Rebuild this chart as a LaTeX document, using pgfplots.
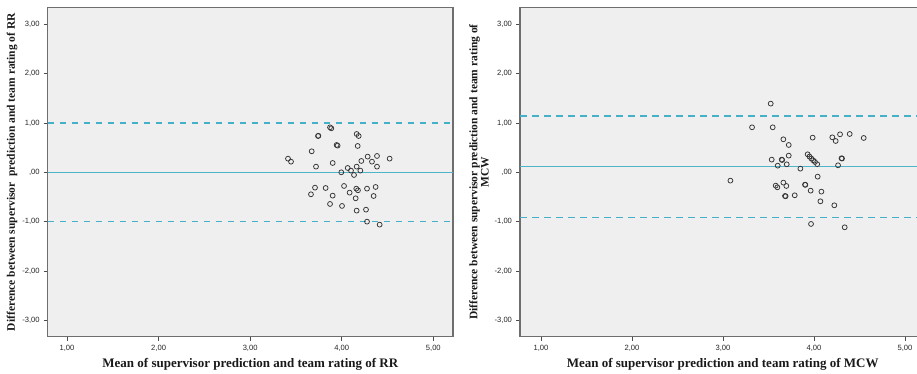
\documentclass[border=0pt]{standalone}
\usepackage{pgfplots}
\pgfplotsset{compat=1.18}
\usepackage{fontspec}
\setmainfont{Liberation Serif}
\newfontfamily\ticksf{Liberation Sans}
\definecolor{bgc}{HTML}{EFEFEF}
\definecolor{framec}{HTML}{6E6E6E}
\definecolor{refc}{HTML}{4FB3CA}
\definecolor{dashc}{HTML}{45B0CA}
\newcommand{\labfont}{\fontsize{11.5}{9.5}\selectfont\bfseries}
\newcommand{\xlabfont}{\fontsize{13}{14}\selectfont\bfseries}
\pgfplotsset{
  bastyle/.style={
    scale only axis,
    width=405.3pt, height=329.4pt,
    ymin=-3.333, ymax=3.345,
    axis background/.style={fill=bgc},
    axis line style={draw=framec, line width=1.3pt},
    tick align=outside,
    xtick pos=bottom, ytick pos=left,
    major tick length=4pt,
    tick style={draw=black!70, line width=0.6pt},
    /pgf/number format/assume math mode=true,
    tick label style={font=\ticksf\fontsize{7.6}{9}\selectfont, text=black!85},
    xtick={1,2,3,4,5},
    xticklabels={{1,00},{2,00},{3,00},{4,00},{5,00}},
    ytick={-3,-2,-1,0,1,2,3},
    yticklabels={{-3,00},{-2,00},{-1,00},{,00},{1,00},{2,00},{3,00}},
    xticklabel style={yshift=-1pt},
    yticklabel style={xshift=-0.5pt},
    clip=true,
  },
  pts/.style={only marks, mark=o, mark size=2.45pt, mark options={draw=black!80, line width=0.75pt}},
  solidref/.style={draw=refc, line width=1.5pt, mark=none, solid},
  dashref/.style={draw=dashc, line width=1.6pt, mark=none, dash pattern=on 6.5pt off 5.5pt},
}
\begin{document}
\begin{tikzpicture}
\useasboundingbox (0,0) rectangle (917pt,-373pt);
% Left panel: RR
\begin{axis}[bastyle,
  at={(47.7pt,-336.7pt)}, anchor=south west,
  xmin=0.789, xmax=5.215,
  xlabel={\xlabfont Mean of supervisor prediction and team rating of RR},
  every axis x label/.style={at={(axis description cs:0.5,-0.085)}, anchor=center, text=black!90},
  every axis y label/.style={at={(axis description cs:-0.088,0.5)}, rotate=90, anchor=center, text=black!90},
  ylabel={\labfont Difference between supervisor\ \ prediction and team rating of RR},
]
\addplot[solidref] coordinates {(0.789,0.0) (5.215,0.0)};
\addplot[dashref] coordinates {(0.789,0.995) (5.215,0.995)};
\addplot[dashref] coordinates {(0.789,-0.995) (5.215,-0.995)};
\addplot[pts] coordinates {
(3.413,0.277) (3.446,0.216) (3.672,0.426) (3.719,0.115) (3.741,0.736) (3.745,0.740)
(3.872,0.912) (3.886,0.892) (3.944,0.554) (3.955,0.541) (3.901,0.189) (3.995,0.000)
(4.065,0.088) (4.101,0.034) (4.134,-0.054) (4.163,0.115) (4.203,0.034) (4.214,0.230)
(4.163,0.777) (4.185,0.736) (4.174,0.534) (4.283,0.318) (4.330,0.216) (4.385,0.331)
(4.385,0.115) (4.523,0.277) (3.664,-0.446) (3.708,-0.311) (3.824,-0.318) (3.901,-0.473)
(3.872,-0.642) (4.003,-0.682) (4.025,-0.277) (4.086,-0.412) (4.152,-0.527) (4.159,-0.331)
(4.177,-0.365) (4.163,-0.777) (4.276,-0.331) (4.265,-0.757) (4.370,-0.297) (4.348,-0.480)
(4.276,-1.000) (4.414,-1.061)
};
\end{axis}
% Right panel: MCW
\begin{axis}[bastyle,
  at={(520pt,-336.7pt)}, anchor=south west,
  xmin=0.769, xmax=5.223,
  xlabel={\xlabfont Mean of supervisor prediction and team rating of MCW},
  every axis x label/.style={at={(axis description cs:0.5,-0.085)}, anchor=center, text=black!90},
  every axis y label/.style={at={(axis description cs:-0.101,0.5)}, rotate=90, anchor=center, align=center, text=black!90, font=\labfont},
  ylabel={Difference between supervisor prediction and team rating of\\MCW},
]
\addplot[solidref] coordinates {(0.769,0.114) (5.223,0.114)};
\addplot[dashref] coordinates {(0.769,1.142) (5.223,1.142)};
\addplot[dashref] coordinates {(0.769,-0.913) (5.223,-0.913)};
\addplot[pts] coordinates {
(3.081,-0.169) (3.319,0.912) (3.524,1.392) (3.546,0.912) (3.535,0.257) (3.601,0.135)
(3.579,-0.270) (3.597,-0.304) (3.645,0.257) (3.650,0.250) (3.663,0.669) (3.722,0.554)
(3.722,0.338) (3.700,0.162) (3.663,-0.209) (3.696,-0.277) (3.681,-0.480) (3.688,-0.486)
(3.788,-0.466) (3.850,0.074) (3.901,-0.250) (3.905,-0.255) (3.985,0.703)
(3.930,0.365) (3.950,0.320) (3.970,0.280) (3.990,0.245) (4.010,0.210) (4.035,0.165)
(4.040,-0.088) (3.963,-0.372) (4.081,-0.392) (4.070,-0.588) (3.967,-1.047) (4.223,-0.669)
(4.201,0.709) (4.238,0.635) (4.286,0.770) (4.392,0.777) (4.546,0.696) (4.264,0.142)
(4.302,0.284) (4.308,0.280) (4.337,-1.115)
};
\end{axis}
\end{tikzpicture}
\end{document}
